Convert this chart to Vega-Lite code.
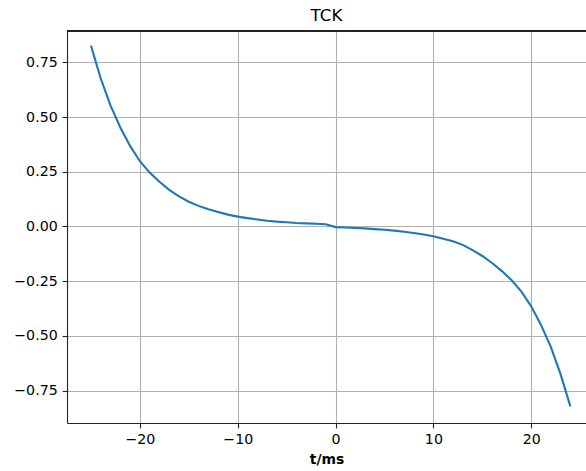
{
  "$schema": "https://vega.github.io/schema/vega-lite/v6.json",
  "width": 519,
  "height": 392,
  "autosize": {"type": "none"},
  "padding": {"left": 67, "top": 31, "right": 0, "bottom": 48},
  "background": "white",
  "title": {
    "text": "TCK",
    "font": "DejaVu Sans",
    "fontSize": 16.7,
    "fontWeight": "normal",
    "color": "black",
    "anchor": "middle",
    "baseline": "alphabetic",
    "offset": 8,
    "dy": 15
  },
  "config": {
    "view": {"stroke": null},
    "axis": {
      "labelFont": "DejaVu Sans",
      "labelFontSize": 14.2,
      "labelColor": "black",
      "titleFont": "DejaVu Sans",
      "titleFontSize": 13.9,
      "titleColor": "black",
      "domainColor": "#222222",
      "domainWidth": 1.1,
      "tickColor": "#222222",
      "tickWidth": 1.1,
      "tickSize": 4.9,
      "labelPadding": 4.9,
      "gridColor": "#b0b0b0",
      "gridWidth": 1.1,
      "gridOpacity": 1
    }
  },
  "data": {
    "values": [
      {"t": -25, "v": 0.826},
      {"t": -24, "v": 0.676},
      {"t": -23, "v": 0.552},
      {"t": -22, "v": 0.452},
      {"t": -21, "v": 0.368},
      {"t": -20, "v": 0.298},
      {"t": -19, "v": 0.246},
      {"t": -18, "v": 0.204},
      {"t": -17, "v": 0.167},
      {"t": -16, "v": 0.137},
      {"t": -15, "v": 0.113},
      {"t": -14, "v": 0.094},
      {"t": -13, "v": 0.079},
      {"t": -12, "v": 0.066},
      {"t": -11, "v": 0.054},
      {"t": -10, "v": 0.045},
      {"t": -9, "v": 0.038},
      {"t": -8, "v": 0.032},
      {"t": -7, "v": 0.026},
      {"t": -6, "v": 0.022},
      {"t": -5, "v": 0.019},
      {"t": -4, "v": 0.016},
      {"t": -3, "v": 0.014},
      {"t": -2, "v": 0.012},
      {"t": -1, "v": 0.010},
      {"t": 0, "v": -0.003},
      {"t": 1, "v": -0.005},
      {"t": 2, "v": -0.007},
      {"t": 3, "v": -0.009},
      {"t": 4, "v": -0.012},
      {"t": 5, "v": -0.015},
      {"t": 6, "v": -0.019},
      {"t": 7, "v": -0.024},
      {"t": 8, "v": -0.030},
      {"t": 9, "v": -0.037},
      {"t": 10, "v": -0.045},
      {"t": 11, "v": -0.056},
      {"t": 12, "v": -0.068},
      {"t": 13, "v": -0.084},
      {"t": 14, "v": -0.108},
      {"t": 15, "v": -0.135},
      {"t": 16, "v": -0.167},
      {"t": 17, "v": -0.204},
      {"t": 18, "v": -0.246},
      {"t": 19, "v": -0.298},
      {"t": 20, "v": -0.365},
      {"t": 21, "v": -0.450},
      {"t": 22, "v": -0.550},
      {"t": 23, "v": -0.675},
      {"t": 24, "v": -0.822}
    ]
  },
  "layer": [
    {
      "mark": {"type": "line", "color": "#1f77b4", "strokeWidth": 2.1, "clip": true},
      "encoding": {
        "x": {
          "field": "t",
          "type": "quantitative",
          "scale": {"domain": [-27.45, 25.6], "nice": false, "zero": false},
          "axis": {
            "values": [-20, -10, 0, 10, 20],
            "format": "d",
            "title": "t/ms",
            "titleFontWeight": "bold",
            "titlePadding": 5,
            "grid": true
          }
        },
        "y": {
          "field": "v",
          "type": "quantitative",
          "scale": {"domain": [-0.898, 0.893], "nice": false, "zero": false},
          "axis": {
            "values": [-0.75, -0.5, -0.25, 0, 0.25, 0.5, 0.75],
            "format": ".2f",
            "title": null,
            "grid": true
          }
        }
      }
    },
    {
      "mark": {"type": "rule", "color": "#222222", "strokeWidth": 1.1},
      "encoding": {
        "y": {"datum": 0.893, "type": "quantitative"}
      }
    }
  ]
}
